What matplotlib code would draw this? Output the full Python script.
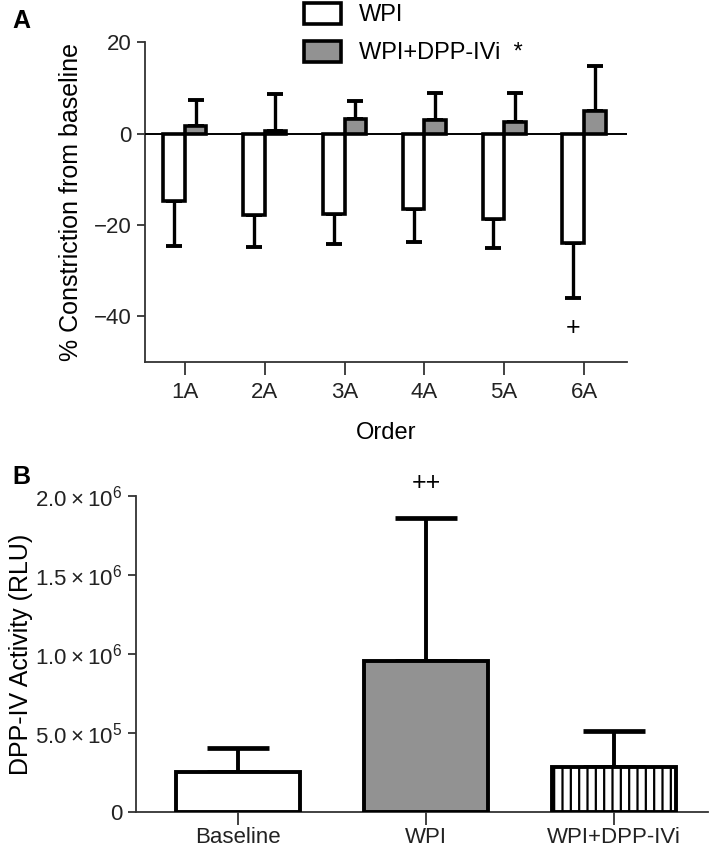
import numpy as np
import matplotlib
matplotlib.use("Agg")
import matplotlib.pyplot as plt
from matplotlib.ticker import FixedLocator, FixedFormatter

plt.rcParams['font.family'] = ['Liberation Sans', 'DejaVu Sans']
plt.rcParams['mathtext.fontset'] = 'custom'
plt.rcParams['mathtext.rm'] = 'Liberation Sans'
plt.rcParams['hatch.linewidth'] = 1.6

# panel A data
orders = ['1A', '2A', '3A', '4A', '5A', '6A']
wpi_mean = [-14.7, -17.8, -17.7, -16.5, -18.7, -24.0]
wpi_err = [9.8, 7.0, 6.5, 7.2, 6.3, 12.0]
dpp_mean = [1.7, 0.5, 3.2, 3.0, 2.5, 5.0]
dpp_err = [5.6, 8.1, 4.0, 5.8, 6.3, 9.8]

# panel B data
groups = ['Baseline', 'WPI', 'WPI+DPP-IVi']
activity = [2.55e5, 9.58e5, 2.87e5]
activity_err = [1.5e5, 9.0e5, 2.28e5]
b_ticks = [0, 5e5, 1e6, 1.5e6, 2e6]
b_ticklabels = ['0', r'$\mathregular{5.0\times10^5}$', r'$\mathregular{1.0\times10^6}$',
                r'$\mathregular{1.5\times10^6}$', r'$\mathregular{2.0\times10^6}$']

gray = '#929292'
spine_c = '#333333'
fs = 16

fig = plt.figure(figsize=(7.09, 8.44), dpi=100)
axA = fig.add_axes([0.2045, 0.571, 0.680, 0.379])
axB = fig.add_axes([0.192, 0.038, 0.807, 0.3744])

# ---- panel A
x = np.arange(len(orders))
w = 0.27
b1 = axA.bar(x - w / 2, wpi_mean, w, color='white', edgecolor='black', linewidth=2.6, label='WPI', zorder=3)
b2 = axA.bar(x + w / 2, dpp_mean, w, color=gray, edgecolor='black', linewidth=2.6, label='WPI+DPP-IVi  *', zorder=3)
axA.errorbar(x - w / 2, wpi_mean, yerr=[wpi_err, np.zeros(len(x))], fmt='none', ecolor='black',
             elinewidth=2.4, capsize=5.5, capthick=2.8, zorder=2)
axA.errorbar(x + w / 2, dpp_mean, yerr=[np.zeros(len(x)), dpp_err], fmt='none', ecolor='black',
             elinewidth=2.4, capsize=5.5, capthick=2.8, zorder=2)
axA.axhline(0, color='black', linewidth=1.4, zorder=4)
axA.text(x[-1] - w / 2, -42.6, '+', ha='center', va='center', fontsize=fs + 2)

axA.set_xlim(-0.5, 5.54)
axA.set_ylim(-50, 20)
axA.set_yticks([20, 0, -20, -40])
axA.set_xticks(x)
axA.set_xticklabels(orders)
axA.set_xlabel('Order', fontsize=fs + 1, labelpad=14)
axA.set_ylabel('% Constriction from baseline', fontsize=fs + 2, labelpad=8)
for s in ['top', 'right']:
    axA.spines[s].set_visible(False)
for s in ['left', 'bottom']:
    axA.spines[s].set_color(spine_c)
    axA.spines[s].set_linewidth(1.3)
axA.tick_params(labelsize=fs, width=1.3, length=6, color=spine_c, labelcolor='#222222')
axA.tick_params(axis='x', length=9, pad=5)

leg = axA.legend(handles=[b1, b2], loc='upper left', bbox_to_anchor=(283 / 709, 1.022),
                 bbox_transform=fig.transFigure, frameon=False, fontsize=fs + 1,
                 handlelength=1.55, handleheight=1.0, labelspacing=0.6, handletextpad=0.75)

fig.text(12 / 709, 1 - 21 / 844, 'A', fontsize=fs + 2, fontweight='bold', ha='left', va='center')

# ---- panel B
xb = np.arange(len(groups))
wb = 0.66
axB.bar(xb[0], activity[0], wb, color='white', edgecolor='black', linewidth=2.8, zorder=3)
axB.bar(xb[1], activity[1], wb, color=gray, edgecolor='black', linewidth=2.8, zorder=3)
axB.bar(xb[2], activity[2], wb, color='white', edgecolor='black', linewidth=2.8, hatch='||', zorder=3)
axB.errorbar(xb, activity, yerr=[np.zeros(len(xb)), activity_err], fmt='none', ecolor='black',
             elinewidth=2.8, capsize=22, capthick=3.4, zorder=2)
axB.text(xb[1], 2.085e6, '++', ha='center', va='center', fontsize=fs + 2)

axB.set_xlim(-0.54, 2.5)
axB.set_ylim(0, 2e6)
axB.yaxis.set_major_locator(FixedLocator(b_ticks))
axB.yaxis.set_major_formatter(FixedFormatter(b_ticklabels))
axB.set_xticks(xb)
axB.set_xticklabels(groups)
axB.set_ylabel('DPP-IV Activity (RLU)', fontsize=fs + 2, labelpad=2)
for s in ['top', 'right']:
    axB.spines[s].set_visible(False)
for s in ['left', 'bottom']:
    axB.spines[s].set_color(spine_c)
    axB.spines[s].set_linewidth(1.3)
axB.tick_params(labelsize=fs, width=1.3, color=spine_c, labelcolor='#222222')
axB.tick_params(axis='x', length=9, pad=2)
axB.tick_params(axis='y', length=6)

fig.text(12 / 709, 1 - 477 / 844, 'B', fontsize=fs + 2, fontweight='bold', ha='left', va='center')

fig.savefig('out.png', dpi=100)
